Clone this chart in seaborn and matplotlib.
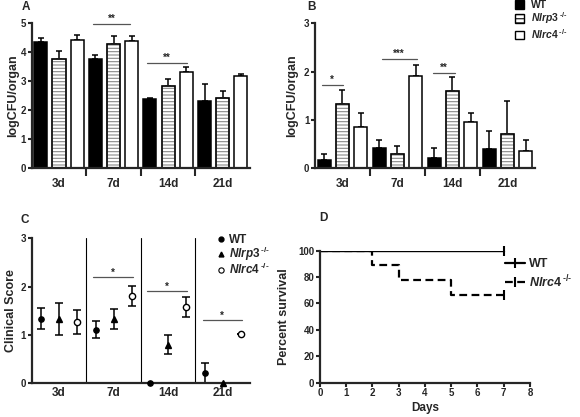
import matplotlib
matplotlib.use("Agg")  # no display
import matplotlib.pyplot as plt
from matplotlib.patches import Patch, Rectangle
from matplotlib.lines import Line2D
import seaborn as sns
import numpy as np
import pandas as pd

DAYS = ["3d", "7d", "14d", "21d"]
GENOTYPES = ["WT", "Nlrp3", "Nlrc4"]

# Panel A - logCFU/organ, mean and SEM
cfu_a_wt = [4.37, 3.78, 2.39, 2.32]
cfu_a_nlrp3 = [3.78, 4.30, 2.83, 2.41]
cfu_a_nlrc4 = [4.41, 4.39, 3.33, 3.17]
sem_a_wt = [0.11, 0.13, 0.05, 0.57]
sem_a_nlrp3 = [0.27, 0.26, 0.26, 0.26]
sem_a_nlrc4 = [0.19, 0.18, 0.18, 0.07]

# Panel B - logCFU/organ, mean and SEM
cfu_b_wt = [0.18, 0.42, 0.21, 0.39]
cfu_b_nlrp3 = [1.34, 0.29, 1.60, 0.70]
cfu_b_nlrc4 = [0.86, 1.92, 0.95, 0.36]
sem_b_wt = [0.12, 0.17, 0.20, 0.38]
sem_b_nlrp3 = [0.27, 0.17, 0.29, 0.69]
sem_b_nlrc4 = [0.29, 0.22, 0.20, 0.22]

# Panel C - clinical score, mean and SEM
score_wt = [1.34, 1.11, 0.0, 0.21]
score_nlrp3 = [1.33, 1.33, 0.80, 0.0]
score_nlrc4 = [1.26, 1.81, 1.58, 1.01]
err_c_wt = [0.21, 0.18, 0.0, 0.20]
err_c_nlrp3 = [0.34, 0.21, 0.20, 0.0]
err_c_nlrc4 = [0.25, 0.21, 0.21, 0.0]

# Panel D - Kaplan-Meier survival
surv_days = [0, 2, 3, 5, 7]
surv_wt = [100, 100, 100, 100, 100]
surv_nlrc4 = [100, 88.9, 77.8, 66.7, 66.7]

# significance brackets: (x start, x end, y, stars)
sig_a = [(0.62, 1.30, 4.97, "**"), (1.61, 2.34, 3.64, "**")]
sig_b = [(-0.38, 0.01, 1.73, "*"), (0.71, 1.35, 2.27, "***"), (1.65, 2.05, 1.97, "**")]
sig_c = [(0.62, 1.36, 2.19, "*"), (1.61, 2.34, 1.90, "*"), (2.63, 3.35, 1.30, "*")]

HATCH_GRAY = "#8a8a8a"
BAR_COLORS = {"WT": "black", "Nlrp3": "white", "Nlrc4": "white"}
SUP = r"$\,^{\text{-/-}}$"

sns.set_style("ticks")
plt.rcParams["font.family"] = ["Liberation Sans", "DejaVu Sans"]
plt.rcParams["font.weight"] = "bold"
plt.rcParams["axes.labelweight"] = "bold"
plt.rcParams["mathtext.fontset"] = "custom"
plt.rcParams["mathtext.rm"] = "Liberation Sans:bold"
plt.rcParams["mathtext.it"] = "Liberation Sans:italic:bold"
plt.rcParams["mathtext.bf"] = "Liberation Sans:bold"
plt.rcParams["hatch.linewidth"] = 0.8


def long_frame(values, errors):
    rows = []
    for g, vals, errs in zip(GENOTYPES, values, errors):
        for d, v, e in zip(DAYS, vals, errs):
            rows.append({"day": d, "genotype": g, "value": v, "err": e})
    return pd.DataFrame(rows)


def style_axes(ax, ymax):
    for s in ["top", "right"]:
        ax.spines[s].set_visible(False)
    for s in ["left", "bottom"]:
        ax.spines[s].set_linewidth(1.6)
    ax.set_ylim(0, ymax)
    ax.tick_params(axis="y", length=3, width=1.5, labelsize=7, pad=1)
    for lab in ax.get_yticklabels():
        lab.set_fontweight("bold")


def add_brackets(ax, brackets):
    for x0, x1, y, stars in brackets:
        ax.plot([x0, x1], [y, y], color="#555555", lw=0.9, clip_on=False)
        ax.text((x0 + x1) / 2, y, stars, ha="center", va="bottom", fontsize=7,
                fontweight="bold", clip_on=False)


def bar_panel(ax, df, ymax, yticks, brackets):
    sns.barplot(data=df, x="day", y="value", hue="genotype", order=DAYS,
                hue_order=GENOTYPES, palette=BAR_COLORS, saturation=1,
                width=1.0, gap=0.28, edgecolor="black", linewidth=1.1,
                errorbar=None, legend=False, ax=ax)
    for cont, g in zip(ax.containers, GENOTYPES):
        sub = df[df.genotype == g].set_index("day").loc[DAYS]
        patches = sorted(cont.patches, key=lambda p: p.get_x())
        xs = [p.get_x() + p.get_width() / 2 for p in patches]
        ax.errorbar(xs, sub["value"], yerr=[np.zeros(len(xs)), sub["err"]],
                    fmt="none", ecolor="black", elinewidth=1.1, capsize=2.5,
                    capthick=1.1, zorder=0.5)
        if g == "Nlrp3":
            for p in patches:
                p.set_hatch("-----")
                p.set_edgecolor(HATCH_GRAY)
                ax.add_patch(Rectangle((p.get_x(), 0), p.get_width(), p.get_height(),
                                       fill=False, edgecolor="black", linewidth=1.1,
                                       zorder=p.get_zorder() + 0.1))
    style_axes(ax, ymax)
    ax.set_yticks(yticks)
    ax.set_xlim(-0.5, 3.5)
    ax.set_xticks([0.5, 1.5, 2.5], minor=True)
    ax.tick_params(axis="x", which="major", length=0, pad=7, labelsize=8.5)
    ax.tick_params(axis="x", which="minor", length=6, width=1.5, direction="out")
    ax.set_xlabel("")
    ax.set_ylabel("logCFU/organ", fontsize=9, fontweight="bold")
    add_brackets(ax, brackets)


fig = plt.figure(figsize=(5.8, 4.17), dpi=100)
ax_a = fig.add_axes([0.0547, 0.5964, 0.3763, 0.3477])
ax_b = fig.add_axes([0.5431, 0.5964, 0.3793, 0.3477])
ax_c = fig.add_axes([0.0547, 0.0808, 0.3763, 0.3477])
ax_d = fig.add_axes([0.5517, 0.0823, 0.3621, 0.3165])

df_a = long_frame([cfu_a_wt, cfu_a_nlrp3, cfu_a_nlrc4], [sem_a_wt, sem_a_nlrp3, sem_a_nlrc4])
df_b = long_frame([cfu_b_wt, cfu_b_nlrp3, cfu_b_nlrc4], [sem_b_wt, sem_b_nlrp3, sem_b_nlrc4])
df_c = long_frame([score_wt, score_nlrp3, score_nlrc4], [err_c_wt, err_c_nlrp3, err_c_nlrc4])

bar_panel(ax_a, df_a, 5, range(6), sig_a)
ax_a.yaxis.set_label_coords(-0.06, 0.5)
bar_panel(ax_b, df_b, 3, range(4), sig_b)
ax_b.yaxis.set_label_coords(-0.077, 0.5)

# bar legend (shared by A and B)
bar_handles = [
    Patch(facecolor="black", edgecolor="black", linewidth=1),
    Patch(facecolor="white", edgecolor="black", linewidth=1, hatch="----"),
    Patch(facecolor="white", edgecolor="black", linewidth=1),
]
fig.legend(bar_handles, ["WT", r"$\mathit{Nlrp3}$" + SUP, r"$\mathit{Nlrc4}$" + SUP],
           loc="upper left", bbox_to_anchor=(0.888, 1.0), frameon=False,
           fontsize=7.5, handlelength=0.9, handleheight=0.9, handletextpad=0.6,
           labelspacing=0.05, borderpad=0, borderaxespad=0)

# Panel C - clinical score
sns.pointplot(data=df_c, x="day", y="value", hue="genotype", order=DAYS,
              hue_order=GENOTYPES, palette=dict.fromkeys(GENOTYPES, "black"),
              markers=["o", "^", "o"], linestyles="none", dodge=0.66,
              errorbar=None, legend=False, markersize=3.8, markeredgewidth=1,
              ax=ax_c)
for line, g in zip(ax_c.lines[:3], GENOTYPES):
    sub = df_c[df_c.genotype == g].set_index("day").loc[DAYS]
    line.set_clip_on(False)
    line.set_zorder(3)
    if g == "Nlrc4":
        line.set_markerfacecolor("white")
        line.set_markersize(4.5)
    ax_c.errorbar(line.get_xdata(), sub["value"], yerr=sub["err"], fmt="none",
                  ecolor="black", elinewidth=1.1, capsize=2.8, capthick=1.1,
                  zorder=2, clip_on=False)
for xv in [0.5, 1.5, 2.5]:
    ax_c.axvline(xv, color="black", lw=0.8, zorder=1)
style_axes(ax_c, 3)
ax_c.set_yticks(range(4))
ax_c.set_xlim(-0.5, 3.5)
ax_c.tick_params(axis="x", which="major", length=0, pad=3, labelsize=8.5)
ax_c.set_xlabel("")
ax_c.set_ylabel("Clinical Score", fontsize=9, fontweight="bold")
ax_c.yaxis.set_label_coords(-0.067, 0.5)
add_brackets(ax_c, sig_c)

c_handles = [
    Line2D([], [], ls="none", marker="o", ms=3.5, color="black"),
    Line2D([], [], ls="none", marker="^", ms=3.5, color="black"),
    Line2D([], [], ls="none", marker="o", ms=3.8, mfc="white", mec="black", mew=0.8),
]
ax_c.legend(c_handles, ["WT", r"$\mathit{Nlrp3}$" + SUP, r"$\mathit{Nlrc4}$" + SUP],
            loc="upper left", bbox_to_anchor=(0.85, 1.03), frameon=False,
            fontsize=8.5, handlelength=0.6, handletextpad=0.4, labelspacing=-0.1,
            borderpad=0, borderaxespad=0)

# Panel D - survival
sns.lineplot(x=surv_days, y=surv_wt, drawstyle="steps-post", color="black",
             linewidth=1.0, ax=ax_d)
sns.lineplot(x=surv_days, y=surv_nlrc4, drawstyle="steps-post", color="black",
             linewidth=1.6, linestyle=(0, (3.5, 2)), ax=ax_d)
for surv in [surv_wt, surv_nlrc4]:
    ax_d.plot(surv_days[-1], surv[-1], marker="|", ms=7, mew=1.5, color="black",
              clip_on=False)
style_axes(ax_d, 100)
ax_d.set_xlim(0, 8)
ax_d.set_xticks(range(9))
ax_d.set_yticks(range(0, 101, 20))
ax_d.tick_params(axis="x", length=3, width=1.5, labelsize=7, pad=1)
for lab in ax_d.get_xticklabels():
    lab.set_fontweight("bold")
ax_d.set_xlabel("Days", fontsize=8.5, fontweight="bold", labelpad=3)
ax_d.set_ylabel("Percent survival", fontsize=9, fontweight="bold")
ax_d.yaxis.set_label_coords(-0.143, 0.5)

d_handles = [
    Line2D([], [], color="black", lw=1.6, marker="|", ms=7, mew=1.5),
    Line2D([], [], color="black", lw=1.6, ls=(0, (3.5, 2)), marker="|", ms=7, mew=1.5),
]
fig.legend(d_handles, ["WT", r"$\mathit{Nlrc4}$" + SUP], loc="upper left",
           bbox_to_anchor=(0.871, 0.381), frameon=False, fontsize=9,
           handlelength=1.6, handletextpad=0.3, labelspacing=0.25,
           borderpad=0, borderaxespad=0)

# panel letters
for letter, x, y in [("A", 25.5, 7.5), ("B", 311, 7.5), ("C", 25, 220), ("D", 323.5, 218.5)]:
    fig.text(x / 580, 1 - y / 417, letter, ha="center", va="center",
             fontsize=8.5, fontweight="bold")

fig.savefig("out.png", dpi=100)
